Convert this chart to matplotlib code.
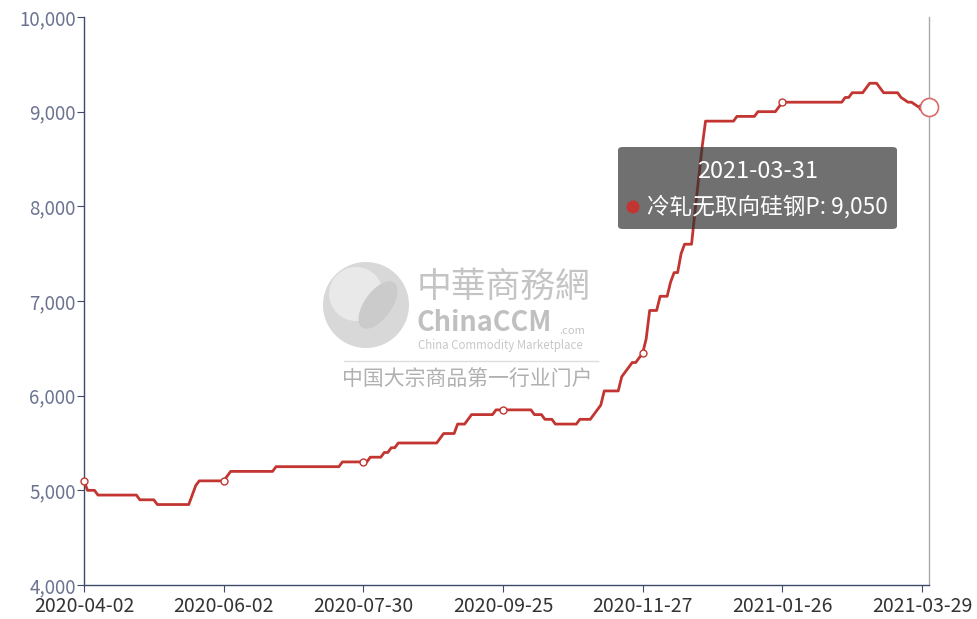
import numpy as np
import matplotlib
matplotlib.use('Agg')
import matplotlib.pyplot as plt
from matplotlib.patches import FancyBboxPatch, Ellipse

plt.rcParams['font.family'] = ['Noto Sans CJK SC', 'DejaVu Sans']

# price levels, with how many trading days each lasted
levels = [5100, 5000, 4950, 4900, 4850, 4950, 5050, 5100, 5150, 5200,
          5250, 5300, 5350, 5400, 5450, 5500, 5550, 5600, 5700, 5750,
          5800, 5850, 5800, 5750, 5700, 5750, 5800, 5850, 5900, 6050,
          6200, 6250, 6300, 6350, 6400, 6450, 6600, 6900, 7050, 7200,
          7300, 7500, 7600, 7950, 8280, 8620, 8900, 8950, 9000, 9050,
          9100, 9150, 9200, 9250, 9300, 9250, 9200, 9150, 9125, 9100,
          9075, 9050]
days = [1, 3, 12, 5, 10, 1, 1, 8, 1, 13,
        19, 8, 4, 2, 2, 12, 1, 4, 3, 1,
        7, 11, 3, 3, 7, 4, 1, 1, 1, 5,
        1, 1, 1, 2, 1, 1, 1, 3, 3, 1,
        2, 1, 3, 1, 1, 1, 9, 6, 6, 1,
        18, 2, 4, 1, 3, 1, 5, 1, 1, 2,
        1, 4]
prices = np.repeat(levels, days)

tick_labels = ['2020-04-02', '2020-06-02', '2020-07-30', '2020-09-25',
               '2020-11-27', '2021-01-26', '2021-03-29']
tick_step = 40
last_date = '2021-03-31'
series_name = '冷轧无取向硅钢P'

W, H = 978, 619
fig = plt.figure(figsize=(W / 100, H / 100), dpi=100)
ax = fig.add_axes([84 / W, 1 - 585 / H, (929 - 84) / W, 568 / H])

x = np.arange(len(prices))
red = '#c23531'
axis_col = '#3d4a6b'


def fx(px):
    return px / W


def fy(py):
    return 1 - py / H


# watermark
fig.patches.append(Ellipse((fx(366), fy(305)), 86 / W, 86 / H, transform=fig.transFigure,
                           facecolor='#d8d8d8', edgecolor='none', zorder=0))
fig.patches.append(Ellipse((fx(356), fy(294)), 54 / W, 54 / H, transform=fig.transFigure,
                           facecolor='#e9e9e9', edgecolor='none', zorder=0))
fig.patches.append(Ellipse((fx(378), fy(305)), 30 / W, 50 / H, angle=-20,
                           transform=fig.transFigure, facecolor='#cbcbcb',
                           edgecolor='none', zorder=0))
fig.text(fx(417), fy(287), '中華商務網', fontsize=25, color='#c4c4c4', va='center', ha='left')
fig.text(fx(417), fy(323), 'ChinaCCM', fontsize=19.5, color='#c0c0c0', va='center', ha='left',
         fontweight='bold')
fig.text(fx(559), fy(331), '.com', fontsize=8, color='#c4c4c4', va='center', ha='left')
fig.text(fx(418), fy(346), 'China Commodity Marketplace', fontsize=8.3, color='#c8c8c8',
         va='center', ha='left')
fig.lines.append(plt.Line2D([fx(344), fx(598)], [fy(361), fy(361)], transform=fig.transFigure,
                            color='#dddddd', lw=1))
fig.text(fx(342), fy(380), '中国大宗商品第一行业门户', fontsize=15, color='#b0b0b0',
         va='center', ha='left')

ax.patch.set_alpha(0)
ax.plot(x, prices, color=red, lw=2, zorder=3, solid_joinstyle='round')
marks = x[::tick_step]
ax.plot(marks, prices[marks], 'o', ms=5, mfc='white', mec=red, mew=1, zorder=4, clip_on=False)
ax.axvline(x[-1], color='#aaaaaa', lw=1, zorder=2, clip_on=False)
ax.plot(x[-1], prices[-1], 'o', ms=13, mfc='white', mec='#d86b68', mew=1.2, zorder=5,
        clip_on=False)

ax.set_xlim(0, len(prices) - 1)
ax.set_ylim(4000, 10000)
ax.set_yticks(np.arange(4000, 10001, 1000))
ax.set_yticklabels([f'{v:,}' for v in range(4000, 10001, 1000)])
ax.set_xticks(marks[:len(tick_labels)])
ax.set_xticklabels(tick_labels)

for s in ['top', 'right']:
    ax.spines[s].set_visible(False)
for s in ['left', 'bottom']:
    ax.spines[s].set_color(axis_col)
    ax.spines[s].set_linewidth(1)
ax.tick_params(axis='y', length=5, color=axis_col, labelcolor='#6b7390', labelsize=13.5, pad=1)
ax.tick_params(axis='x', length=5, color=axis_col, labelcolor='#333333', labelsize=14, pad=3)

# tooltip
tip = FancyBboxPatch((fx(618), fy(229)), (897 - 618) / W, (229 - 147) / H,
                     boxstyle='round,pad=0,rounding_size=0.005', transform=fig.transFigure,
                     facecolor=(0.2, 0.2, 0.2, 0.7), edgecolor='none', zorder=10)
fig.patches.append(tip)
fig.text(fx(758), fy(172), last_date, fontsize=17, color='white', ha='center', va='center',
         zorder=11)
fig.patches.append(Ellipse((fx(633), fy(207)), 13 / W, 13 / H, transform=fig.transFigure,
                           facecolor=red, edgecolor='none', zorder=11))
fig.text(fx(647), fy(207), f'{series_name}: {prices[-1]:,}', fontsize=16.3, color='white',
         ha='left', va='center', zorder=11)

fig.savefig('out.png', dpi=100)
